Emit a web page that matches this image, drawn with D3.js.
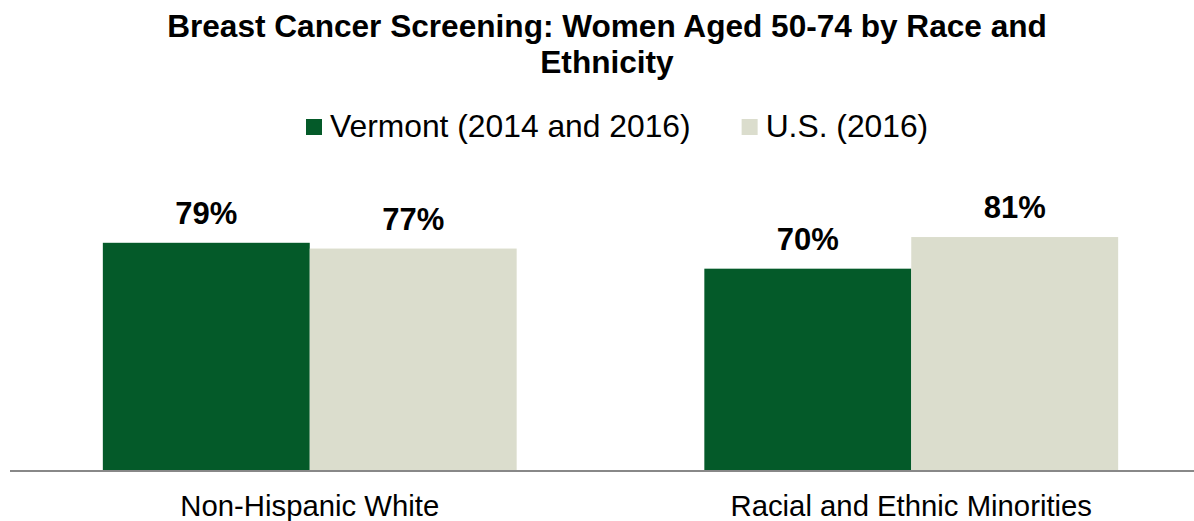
<!DOCTYPE html>
<html>
<head>
<meta charset="utf-8">
<script src="https://cdnjs.cloudflare.com/ajax/libs/d3/7.8.5/d3.min.js"></script>
<style>
  body { margin: 0; background: #fff; }
  text { font-family: "Liberation Sans", Arial, sans-serif; fill: #000; }
</style>
</head>
<body>
<script>
// chart data
var categories = ["Non-Hispanic White", "Racial and Ethnic Minorities"];
var seriesNames = ["Vermont (2014 and 2016)", "U.S. (2016)"];
var vermontValues = [79, 70];
var usValues = [77, 81];
var titleLines = ["Breast Cancer Screening: Women Aged 50-74 by Race and", "Ethnicity"];

var colors = ["#045a29", "#dbddcd"];

var svgWidth = 1194;
var svgHeight = 521;

var svg = d3.select("body")
  .append("svg")
  .attr("width", svgWidth)
  .attr("height", svgHeight);

// build rows for the grouped bars
var rows = categories.map(function(c, i) {
  return { category: c, values: [vermontValues[i], usValues[i]] };
});

// scales
var x0 = d3.scaleBand()
  .domain(categories)
  .range([9, 1212])
  .paddingInner(0.312)
  .paddingOuter(0.156);

var x1 = d3.scaleBand()
  .domain(seriesNames)
  .range([0, x0.bandwidth()])
  .padding(0);

var yScale = d3.scaleLinear()
  .domain([0, 100])
  .range([470, 182.4]);

var colorScale = d3.scaleOrdinal()
  .domain(seriesNames)
  .range(colors);

// title
svg.append("text")
  .attr("text-anchor", "middle")
  .style("font-size", "31.6px")
  .style("font-weight", "bold")
  .selectAll("tspan")
  .data(titleLines)
  .enter()
  .append("tspan")
    .attr("x", 607)
    .attr("y", function(d, i) { return 37 + i * 36; })
    .text(function(d) { return d; });

// legend
var legend = svg.append("g");
var legendX = 306;
seriesNames.forEach(function(name) {
  var item = legend.append("g").attr("transform", "translate(" + legendX + ",0)");
  item.append("rect")
    .attr("x", 0)
    .attr("y", 119)
    .attr("width", 16)
    .attr("height", 16)
    .attr("fill", colorScale(name));
  var t = item.append("text")
    .attr("x", 24)
    .attr("y", 137)
    .style("font-size", "31.8px")
    .text(name);
  legendX += 24 + t.node().getComputedTextLength() + 51;
});

// bars
var groups = svg.selectAll(".group")
  .data(rows)
  .enter()
  .append("g")
  .attr("class", "group")
  .attr("transform", function(d) { return "translate(" + x0(d.category) + ",0)"; });

groups.selectAll("rect")
  .data(function(d) {
    return seriesNames.map(function(s, i) { return { series: s, value: d.values[i] }; });
  })
  .enter()
  .append("rect")
    .attr("x", function(d) { return x1(d.series); })
    .attr("y", function(d) { return yScale(d.value); })
    .attr("width", x1.bandwidth())
    .attr("height", function(d) { return yScale(0) - yScale(d.value); })
    .attr("fill", function(d) { return colorScale(d.series); });

// value labels
groups.selectAll(".label")
  .data(function(d) {
    return seriesNames.map(function(s, i) { return { series: s, value: d.values[i] }; });
  })
  .enter()
  .append("text")
    .attr("class", "label")
    .attr("x", function(d) { return x1(d.series) + x1.bandwidth() / 2; })
    .attr("y", function(d) { return yScale(d.value) - 19; })
    .attr("text-anchor", "middle")
    .style("font-size", "31px")
    .style("font-weight", "bold")
    .text(function(d) { return d.value + "%"; });

// baseline axis
var xAxis = d3.axisBottom(x0).tickSize(0).tickPadding(0);
var axisG = svg.append("g")
  .attr("transform", "translate(0,471)")
  .call(xAxis);

axisG.select(".domain")
  .attr("d", "M10,0H" + svgWidth)
  .attr("stroke", "#888888")
  .attr("stroke-width", 2);

axisG.selectAll(".tick text")
  .attr("y", 45)
  .attr("dy", 0)
  .style("font-size", "29.3px")
  .style("font-family", "\"Liberation Sans\", Arial, sans-serif")
  .attr("fill", "#000");
</script>
</body>
</html>
